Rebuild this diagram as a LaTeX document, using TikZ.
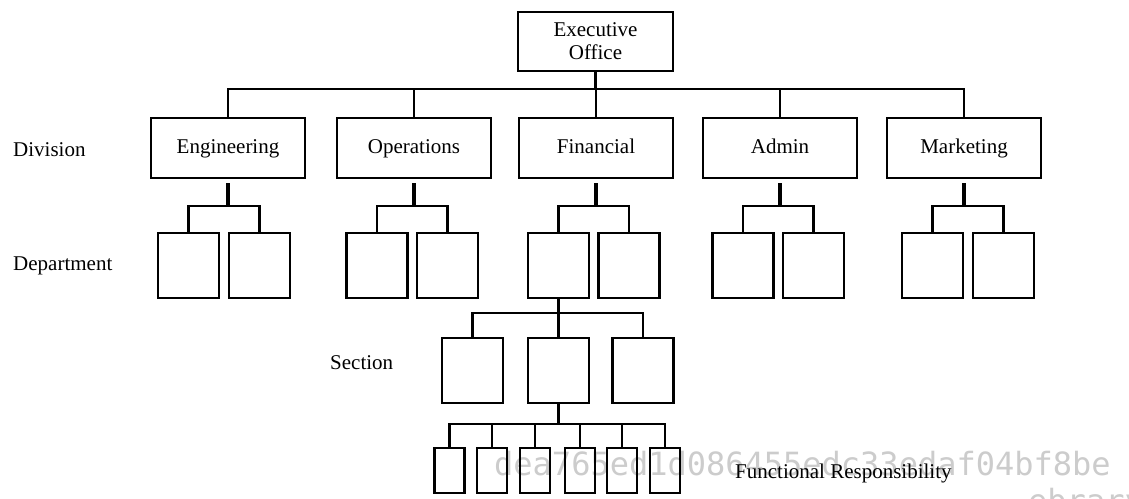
\documentclass[tikz,border=0pt]{standalone}
\usepackage{fontspec}
\setmainfont{Liberation Serif}
\newfontfamily\wmfont{DejaVu Sans Mono}
\begin{document}
\begin{tikzpicture}[x=1pt,y=-1pt,
  box/.style={draw, line width=2.2pt, inner sep=0pt, font=\fontsize{21}{23}\selectfont, align=center},
  execbox/.style={box, minimum width=155pt, minimum height=59pt},
  divbox/.style={box, minimum width=154pt, minimum height=60pt, text height=14.5pt, text depth=4.5pt},
  deptbox/.style={box, minimum width=61pt, minimum height=65pt},
  funcbox/.style={box, minimum width=30pt, minimum height=45pt},
  conn/.style={line width=2.2pt},
  stub/.style={line width=3.6pt},
  lbl/.style={font=\fontsize{21}{23}\selectfont, anchor=west, inner sep=0pt},
  wm/.style={font=\wmfont\fontsize{32}{32}\selectfont, text=black!20, anchor=base west, inner sep=0pt}]
\useasboundingbox (0,0) rectangle (1129,498);
\clip (0,0) rectangle (1129,498);
\fill[white] (0,0) rectangle (1129,498);

% watermark
\node[wm] (wm1) at (494,475) {dea765ed1d086455edc33edaf04bf8be};
\node[wm] (wm2) at (1028,512) {ebrary};

% bus levels
\coordinate (tb) at (0,89);
\coordinate (dbus) at (0,206);
\coordinate (sbus) at (0,313);
\coordinate (fbus) at (0,424);

% executive
\node[execbox] (exec) at (595.5,41.5) {Executive\\Office};

% divisions
\foreach \n/\x/\t in {eng/228/Engineering, ops/414/Operations, fin/596/Financial, adm/780/Admin, mkt/964/Marketing}{
  \node[divbox] (\n) at (\x,148) {\t};
}

% departments
\foreach \n/\a/\b in {eng/188.5/259.5, ops/377/447.5, fin/558.5/629, adm/743/813.5, mkt/932.5/1003.5}{
  \node[deptbox] (\n1) at (\a,265.5) {};
  \node[deptbox] (\n2) at (\b,265.5) {};
}

% sections
\node[deptbox] (s1) at (472.5,370.5) {};
\node[deptbox] (s2) at (558.5,370.5) {};
\node[deptbox] (s3) at (643,370.5) {};

% functional responsibilities
\foreach \i/\x in {1/449.5, 2/492, 3/535, 4/580, 5/622, 6/665}{
  \node[funcbox] (f\i) at (\x,470.5) {};
}

% labels
\node[lbl] (ldiv) at (13,150) {Division};
\node[lbl] (ldep) at (13,266) {Department};
\node[lbl] (lsec) at (330,363) {Section};
\node[lbl] (lfun) at (735,473) {Functional Responsibility};

% executive to divisions
\draw[conn] (exec.south) -- (exec.south |- tb);
\draw[conn] (eng.north) |- (mkt.north |- tb) -- (mkt.north);
\foreach \n in {ops, fin, adm}{
  \draw[conn] (\n.north) -- (\n.north |- tb);
}

% divisions to departments
\foreach \n in {eng, ops, fin, adm, mkt}{
  \draw[stub] ([yshift=-4pt]\n.south) -- ([yshift=-28pt]\n.south);
  \draw[conn] (\n1.north) |- (\n2.north |- dbus) -- (\n2.north);
}

% department to sections
\draw[conn] (fin1.south) -- (s2.north);
\draw[conn] (s1.north) |- (s3.north |- sbus) -- (s3.north);

% section to functional
\draw[conn] (s2.south) -- (s2.south |- fbus);
\draw[conn] (f1.north) |- (f6.north |- fbus) -- (f6.north);
\foreach \i in {2,3,4,5}{
  \draw[conn] (f\i.north) -- (f\i.north |- fbus);
}
\end{tikzpicture}
\end{document}
